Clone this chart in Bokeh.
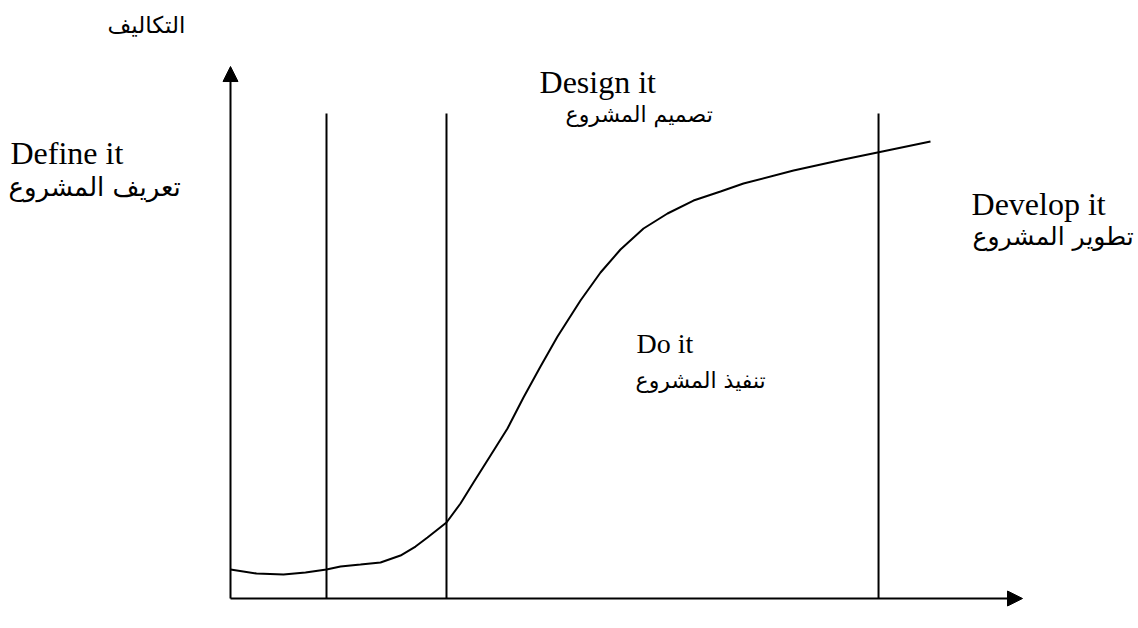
from bokeh.plotting import figure
from bokeh.models import Range1d, Arrow, NormalHead, ColumnDataSource
from bokeh.core.properties import value
from bokeh.embed import file_html
from bokeh.resources import INLINE

# --- data (time on x, cost on y; axes run 0..100) ---
curve_time = [0, 3.28, 6.69, 9.47, 12.12, 13.89, 16.41, 18.94, 21.46, 23.36, 24.87,
              27.27, 29.04, 30.68, 32.83, 34.97, 36.99, 39.14, 41.29, 44.19, 46.72,
              49.24, 52.15, 55.18, 58.46, 61.87, 64.77, 71.09, 77.40, 81.69, 88.38]
curve_cost = [5.45, 4.70, 4.51, 4.89, 5.45, 6.02, 6.39, 6.77, 8.08, 9.77, 11.47,
              14.29, 17.86, 21.80, 26.88, 31.95, 37.78, 43.61, 49.25, 56.02, 61.28,
              65.60, 69.55, 72.37, 74.81, 76.50, 78.01, 80.45, 82.52, 83.83, 85.90]
phase_bounds = [12.12, 27.27, 81.82]
phase_top = 91.17
axis_max = 100

phase_en = ["Define it", "Design it", "Do it", "Develop it"]
phase_ar = ["تعريف المشروع", "تصميم المشروع", "تنفيذ المشروع", "تطوير المشروع"]
y_title = "التكاليف"

# label anchor positions and sizes (layout)
en_x = [-27.78, 39.02, 51.26, 93.56]
en_y = [83.83, 97.18, 47.93, 74.25]
en_size = ["32px", "32px", "28px", "32px"]
ar_x = [-28.03, 42.30, 51.14, 93.69]
ar_y = [77.26, 90.98, 40.98, 68.14]
ar_size = ["26px", "22px", "22px", "25px"]
title_pos = (-15.53, 107.80)

p = figure(width=1136, height=620, output_backend="svg", toolbar_location=None,
           x_range=Range1d(-29.04, 114.39), y_range=Range1d(-4.135, 112.41),
           min_border=0)
p.axis.visible = False
p.grid.visible = False
p.outline_line_color = None
p.background_fill_color = "white"
p.border_fill_color = "white"

# axes with arrows
p.add_layout(Arrow(end=NormalHead(size=15, fill_color="black", line_color="black"),
                   x_start=0, y_start=0, x_end=axis_max, y_end=0,
                   line_width=2, line_color="black"))
p.add_layout(Arrow(end=NormalHead(size=15, fill_color="black", line_color="black"),
                   x_start=0, y_start=0, x_end=0, y_end=axis_max,
                   line_width=2, line_color="black"))

# phase boundaries
p.segment(x0=phase_bounds, y0=[0] * len(phase_bounds), x1=phase_bounds,
          y1=[phase_top] * len(phase_bounds), line_color="black", line_width=2)

# cost curve
p.line(curve_time, curve_cost, line_color="black", line_width=2)

# labels
en_src = ColumnDataSource(dict(x=en_x, y=en_y, t=phase_en, s=en_size))
ar_src = ColumnDataSource(dict(x=ar_x, y=ar_y, t=phase_ar, s=ar_size))
p.text(x="x", y="y", text="t", source=en_src, text_font=value("Liberation Serif"),
       text_font_size="s", text_align="left", text_baseline="alphabetic",
       text_color="black")
p.text(x="x", y="y", text="t", source=ar_src, text_font=value("DejaVu Sans"),
       text_font_size="s", text_align="left", text_baseline="alphabetic",
       text_color="black")
p.text(x=[title_pos[0]], y=[title_pos[1]], text=[y_title], text_font=value("DejaVu Sans"),
       text_font_size="23px", text_align="left", text_baseline="alphabetic",
       text_color="black")

open("out.html", "w").write(file_html(p, INLINE))
